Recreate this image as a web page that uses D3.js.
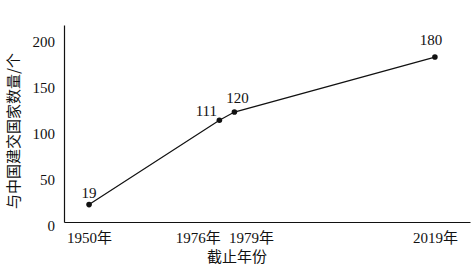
<!DOCTYPE html>
<html>
<head>
<meta charset="utf-8">
<script src="https://cdn.jsdelivr.net/npm/d3@7"></script>
<style>
  body { margin: 0; background: #fff; }
  text { font-family: "Liberation Serif", "Noto Sans CJK SC", serif; fill: #111; }
</style>
</head>
<body>
<svg name="chart" width="472" height="273"></svg>
<script>
var years = [1950, 1976, 1979, 2019];
var yearLabels = ["1950年", "1976年", "1979年", "2019年"];
var counts = [19, 111, 120, 180];
var yTicks = [0, 50, 100, 150, 200];

var svg = d3.select("svg[name='chart']"),
    plotLeft = 64, plotRight = 470, plotTop = 25, plotBottom = 222;

var x = d3.scaleLinear().domain([1945, 2026]).range([plotLeft, plotRight]),
    y = d3.scaleLinear().domain([0, 215]).range([plotBottom, plotTop]);

// axes, no tick marks
var gy = svg.append("g")
    .attr("transform", "translate(" + plotLeft + ",0)")
    .call(d3.axisLeft(y).tickValues(yTicks).tickSize(0).tickPadding(9));
gy.select(".domain").attr("stroke", "#111").attr("stroke-width", 1.2);
gy.selectAll("text").attr("font-size", 15).attr("dy", "0.55em")
    .style("font-family", "Liberation Serif");

var gx = svg.append("g")
    .attr("transform", "translate(0," + plotBottom + ")")
    .call(d3.axisBottom(x).tickValues(years).tickSize(0).tickFormat(function (d, i) { return yearLabels[i]; }));
gx.select(".domain").attr("stroke", "#111").attr("stroke-width", 1.2);
gx.selectAll("text")
    .attr("font-size", 15)
    .attr("y", 10)
    .attr("text-anchor", function (d) { return d == 1976 ? "end" : d == 1979 ? "start" : "middle"; })
    .attr("x", function (d) { return d == 1976 ? 1 : d == 1979 ? -6 : 0; })
    .style("font-family", "Liberation Serif, Noto Sans CJK SC");

// axis titles
svg.append("text")
    .attr("transform", "translate(19,131) rotate(-90)")
    .attr("text-anchor", "middle")
    .attr("font-size", 15)
    .style("font-family", "Noto Sans CJK SC")
    .text("与中国建交国家数量/个");

svg.append("text")
    .attr("x", 237)
    .attr("y", 262)
    .attr("text-anchor", "middle")
    .attr("font-size", 15)
    .style("font-family", "Noto Sans CJK SC")
    .text("截止年份");

var d = years.map(function (yr, i) { return { year: yr, count: counts[i] }; });

svg.append("path")
    .datum(d)
    .attr("fill", "none")
    .attr("stroke", "#111")
    .attr("stroke-width", 1.2)
    .attr("d", d3.line()
        .x(function (d) { return x(d.year); })
        .y(function (d) { return y(d.count); }));

svg.selectAll(".dot")
    .data(d)
    .enter().append("circle")
    .attr("class", "dot")
    .attr("cx", function (d) { return x(d.year); })
    .attr("cy", function (d) { return y(d.count); })
    .attr("r", 2.8)
    .attr("fill", "#111");

// value labels, nudged apart where the two points sit close together
var dx = { 1950: 0, 1976: -13, 1979: 3, 2019: -4 },
    dy = { 1950: -7, 1976: -4, 1979: -9, 2019: -12 };

svg.selectAll(".val")
    .data(d)
    .enter().append("text")
    .attr("class", "val")
    .attr("x", function (d) { return x(d.year) + dx[d.year]; })
    .attr("y", function (d) { return y(d.count) + dy[d.year]; })
    .attr("text-anchor", "middle")
    .attr("font-size", 15)
    .text(function (d) { return d.count; });
</script>
</body>
</html>
